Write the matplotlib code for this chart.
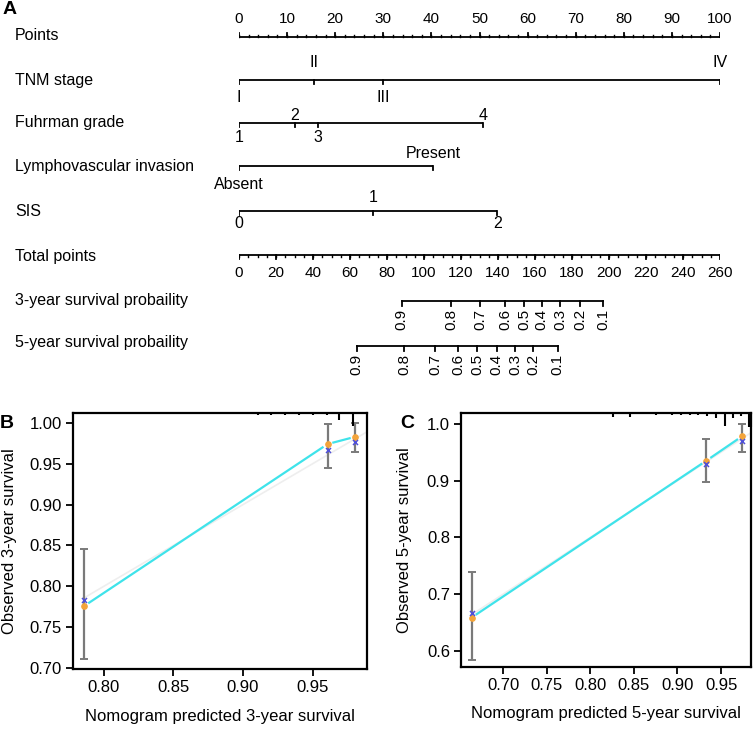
import matplotlib
matplotlib.use("Agg")
import matplotlib.pyplot as plt
import matplotlib.transforms as mtransforms
import numpy as np

plt.rcParams["font.family"] = ["Liberation Sans", "DejaVu Sans"]

W, H = 755, 733

# ---- nomogram (A), positions on the 0-100 points scale ----
points_major = list(range(0, 101, 10))
points_minor = list(range(0, 101, 2))

tnm_labels = ["I", "II", "III", "IV"]
tnm_points = [0.0, 15.6, 29.9, 100.0]
tnm_above = [False, True, False, True]

fuhrman_labels = ["1", "2", "3", "4"]
fuhrman_points = [0.0, 11.6, 16.5, 50.8]
fuhrman_above = [False, True, False, True]

lvi_labels = ["Absent", "Present"]
lvi_points = [0.0, 40.3]
lvi_above = [False, True]

sis_labels = ["0", "1", "2"]
sis_points = [0.0, 27.8, 53.7]
sis_above = [False, True, False]

total_max = 260
total_major = list(range(0, 261, 20))
total_minor = list(range(0, 261, 5))

surv_labels = ["0.9", "0.8", "0.7", "0.6", "0.5", "0.4", "0.3", "0.2", "0.1"]
surv3_total = [87.9, 114.6, 130.3, 143.8, 154.0, 163.6, 173.5, 184.3, 196.8]
surv5_total = [63.6, 89.4, 106.0, 118.5, 128.8, 139.3, 149.2, 159.0, 172.3]

# ---- calibration 3-year (B) ----
b_pred = [0.786, 0.9607, 0.9807]
b_obs = [0.776, 0.974, 0.983]
b_corr = [0.783, 0.967, 0.977]
b_lo = [0.711, 0.945, 0.964]
b_hi = [0.846, 0.999, 1.000]
b_rug_x = [0.783, 0.803, 0.822, 0.842, 0.862, 0.871, 0.881, 0.891,
           0.911, 0.920, 0.930, 0.940, 0.950, 0.960, 0.969, 0.979]
b_rug_n = [1, 1, 1, 1, 1, 1, 1, 1, 1.5, 2, 1.5, 1.5, 1.5, 2, 7, 13]

# ---- calibration 5-year (C) ----
c_pred = [0.664, 0.933, 0.974]
c_obs = [0.659, 0.935, 0.978]
c_corr = [0.667, 0.930, 0.970]
c_lo = [0.585, 0.898, 0.951]
c_hi = [0.740, 0.974, 1.000]
c_rug_x = [0.668, 0.708, 0.747, 0.754, 0.776, 0.785, 0.796, 0.815, 0.826,
           0.845, 0.854, 0.875, 0.884, 0.894, 0.904, 0.914, 0.924, 0.934,
           0.944, 0.954, 0.964, 0.973, 0.982, 0.984]
c_rug_n = [1, 1, 1, 1, 1, 1, 1, 1, 4, 4, 1, 2, 1, 2, 2, 2, 2, 3, 5, 13, 5, 3, 14, 14]

fig = plt.figure(figsize=(W / 100, H / 100), dpi=100)

# nomogram axes: x in points (0-100), y in pixel rows
ax = fig.add_axes([239 / W, 0, 481 / W, 1])
ax.set_xlim(0, 100)
ax.set_ylim(H, 0)
ax.axis("off")
left = mtransforms.blended_transform_factory(fig.transFigure, ax.transData)

LW = 1.3
FS_LAB = 11.5
FS_TICK = 11


def row_label(y, text):
    ax.text(15 / W, y, text, transform=left, ha="left", va="center", fontsize=FS_LAB)


def variable_axis(y, pts, labels, above, base_up, base_down):
    # base_up / base_down: baseline rows of the labels above / below the line
    ax.plot([min(pts), max(pts)], [y, y], color="black", lw=LW, solid_capstyle="butt")
    for p, lab, up in zip(pts, labels, above):
        ax.plot([p, p], [y, y + 3.5], color="black", lw=LW)
        ax.text(p, base_up if up else base_down, lab, ha="center", va="baseline", fontsize=FS_LAB)


# Points
row_label(35, "Points")
y = 37
ax.plot([0, 100], [y, y], color="black", lw=LW)
for p in points_minor:
    ax.plot([p, p], [y, y - 2], color="black", lw=1.0)
for p in points_major:
    ax.plot([p, p], [y, y - 4.5], color="black", lw=LW)
    ax.text(p, 23, str(p), ha="center", va="baseline", fontsize=FS_TICK)

row_label(81, "TNM stage")
variable_axis(80, tnm_points, tnm_labels, tnm_above, 67, 102)

row_label(123, "Fuhrman grade")
variable_axis(123, fuhrman_points, fuhrman_labels, fuhrman_above, 120, 142)

row_label(166, "Lymphovascular invasion")
variable_axis(166, lvi_points, lvi_labels, lvi_above, 158, 189)

row_label(211, "SIS")
variable_axis(211, sis_points, sis_labels, sis_above, 202, 228)

# Total points
row_label(257, "Total points")
y = 255
scale = 100 / total_max
ax.plot([0, 100], [y, y], color="black", lw=LW)
for t in total_minor:
    ax.plot([t * scale] * 2, [y, y + 2], color="black", lw=1.0)
for t in total_major:
    ax.plot([t * scale] * 2, [y, y + 4], color="black", lw=LW)
    ax.text(t * scale, 277, str(t), ha="center", va="baseline", fontsize=FS_TICK)


def surv_axis(y, totals):
    xs = [t * scale for t in totals]
    ax.plot([xs[0], xs[-1]], [y, y], color="black", lw=LW)
    for x, lab in zip(xs, surv_labels):
        ax.plot([x, x], [y, y + 5], color="black", lw=LW)
        ax.text(x, y + 8, lab, rotation=90, ha="center", va="top", fontsize=FS_TICK)


row_label(300, "3-year survival probaility")
surv_axis(301, surv3_total)
row_label(343, "5-year survival probaility")
surv_axis(346, surv5_total)

fig.text(3 / W, 1 - 10 / H, "A", ha="left", va="center", fontsize=14, fontweight="bold")


# ---- calibration panels ----
def gapped_line(a, xs, ys, gap, **kw):
    tr = a.transData
    inv = tr.inverted()
    for i in range(len(xs) - 1):
        p0 = np.array(tr.transform((xs[i], ys[i])))
        p1 = np.array(tr.transform((xs[i + 1], ys[i + 1])))
        d = p1 - p0
        u = d / np.hypot(*d)
        q0 = inv.transform(p0 + u * gap)
        q1 = inv.transform(p1 - u * gap)
        a.plot([q0[0], q1[0]], [q0[1], q1[1]], **kw)


def calib_panel(rect, xlim, ylim, xticks, yticks, fmt_x, fmt_y, pred, obs, corr, lo, hi,
                rug_x, rug_n, xlabel, ylabel, ylab_x, letter, letter_x):
    a = fig.add_axes([rect[0] / W, 1 - rect[3] / H, (rect[2] - rect[0]) / W, (rect[3] - rect[1]) / H])
    a.set_xlim(*xlim)
    a.set_ylim(*ylim)
    for s in a.spines.values():
        s.set_linewidth(1.6)
    a.set_xticks(xticks)
    a.set_yticks(yticks)
    a.set_xticklabels([fmt_x.format(v) for v in xticks])
    a.set_yticklabels([fmt_y.format(v) for v in yticks])
    a.tick_params(direction="out", length=5, width=1.3, labelsize=12, pad=3)
    a.set_xlabel(xlabel, fontsize=12)
    a.set_ylabel(ylabel, fontsize=12)
    a.xaxis.set_label_coords(0.5, -0.155)
    a.yaxis.set_label_coords(ylab_x, 0.5)
    # ideal line
    a.plot([pred[0], xlim[1]], [pred[0], xlim[1]], color="#eeeeee", lw=1.2, zorder=1)
    gapped_line(a, pred, obs, 6, color="#3fe3ea", lw=1.6, zorder=2)
    a.errorbar(pred, obs, yerr=[np.subtract(obs, lo), np.subtract(hi, obs)], fmt="none",
               ecolor="#7a7a7a", elinewidth=1.6, capsize=3, capthick=1.4, zorder=3)
    a.plot(pred, obs, "o", color="#f4a43a", ms=3.8, zorder=4)
    a.plot(pred, corr, "x", color="#5050d8", ms=3.6, mew=1.1, zorder=5)
    rug_tr = mtransforms.blended_transform_factory(a.transData, a.transAxes)
    hpx = rect[3] - rect[1]
    for x, n in zip(rug_x, rug_n):
        a.plot([x, x], [1, 1 - n / hpx], transform=rug_tr, color="black", lw=1.5,
               solid_capstyle="butt", clip_on=False, zorder=6)
    fig.text(letter_x / W, 1 - 423 / H, letter, ha="left", va="center", fontsize=14, fontweight="bold")
    return a


calib_panel((73, 413, 367, 669), (0.778, 0.989), (0.699, 1.012),
            [0.80, 0.85, 0.90, 0.95], [0.70, 0.75, 0.80, 0.85, 0.90, 0.95, 1.00],
            "{:.2f}", "{:.2f}", b_pred, b_obs, b_corr, b_lo, b_hi, b_rug_x, b_rug_n,
            "Nomogram predicted 3-year survival", "Observed 3-year survival", -0.19, "B", 0)

calib_panel((461, 413, 751, 667), (0.6518, 0.9843), (0.572, 1.019),
            [0.70, 0.75, 0.80, 0.85, 0.90, 0.95], [0.6, 0.7, 0.8, 0.9, 1.0],
            "{:.2f}", "{:.1f}", c_pred, c_obs, c_corr, c_lo, c_hi, c_rug_x, c_rug_n,
            "Nomogram predicted 5-year survival", "Observed 5-year survival", -0.17, "C", 400)

fig.savefig("out.png", dpi=100)
